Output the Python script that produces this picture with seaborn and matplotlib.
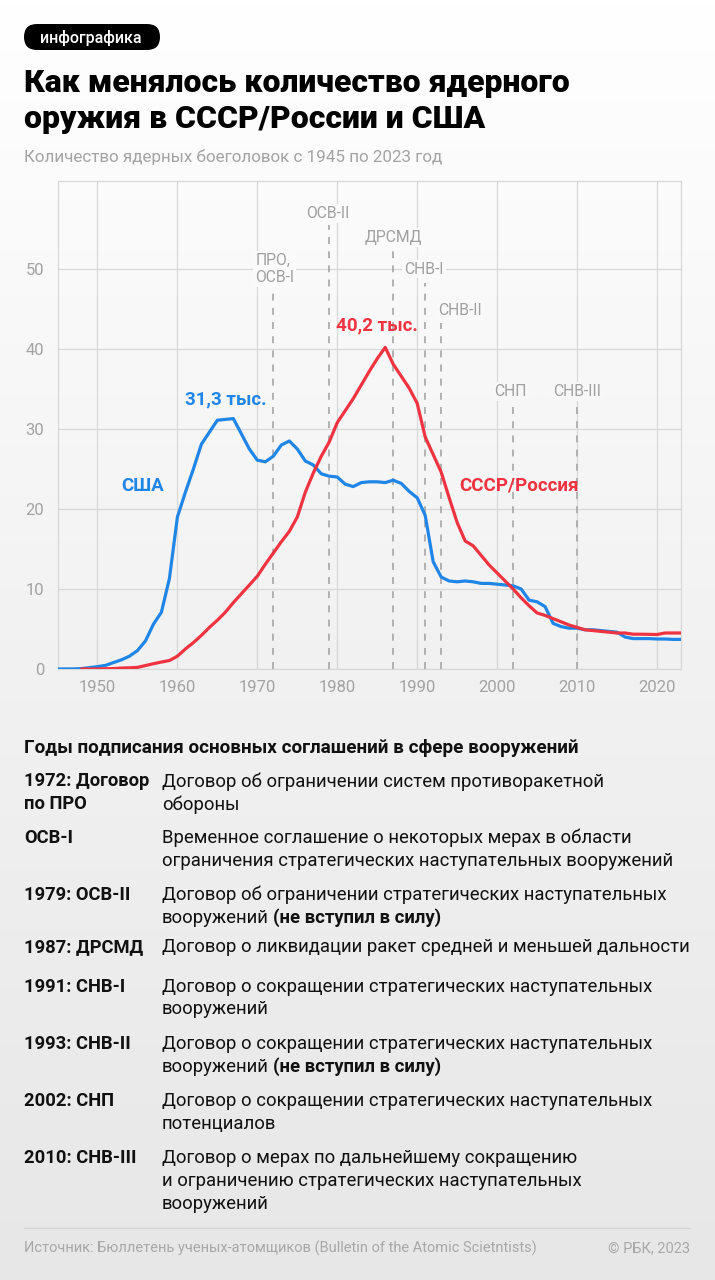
import numpy as np
import pandas as pd
import matplotlib
matplotlib.use("Agg")
import matplotlib.pyplot as plt
import seaborn as sns
from matplotlib import font_manager as fm
from matplotlib.patches import FancyBboxPatch
from matplotlib.colors import LinearSegmentedColormap

# ---------------- data ----------------
years = list(range(1945, 2024))
usa = [0.0, 0.01, 0.01, 0.05, 0.17, 0.3, 0.45, 0.8, 1.15, 1.6,
       2.3, 3.5, 5.6, 7.1, 11.3, 19.0, 22.1, 25.0, 28.1, 29.6,
       31.1, 31.2, 31.3, 29.4, 27.5, 26.1, 25.9, 26.6, 28.0, 28.5,
       27.5, 26.0, 25.5, 24.4, 24.1, 24.0, 23.1, 22.8, 23.3, 23.4,
       23.4, 23.3, 23.6, 23.2, 22.2, 21.4, 19.2, 13.4, 11.5, 11.0,
       10.9, 11.0, 10.9, 10.7, 10.7, 10.6, 10.5, 10.4, 10.0, 8.6,
       8.4, 7.8, 5.7, 5.3, 5.1, 5.1, 4.9, 4.9, 4.8, 4.7,
       4.6, 4.0, 3.8, 3.8, 3.8, 3.75, 3.75, 3.7, 3.7]
ussr = [np.nan, np.nan, np.nan, 0.0, 0.0, 0.01, 0.03, 0.05, 0.12, 0.15,
        0.2, 0.43, 0.66, 0.87, 1.06, 1.6, 2.5, 3.3, 4.2, 5.2,
        6.1, 7.1, 8.3, 9.4, 10.5, 11.6, 13.1, 14.5, 15.9, 17.2,
        19.0, 22.1, 24.5, 26.6, 28.4, 30.8, 32.3, 33.8, 35.5, 37.2,
        38.8, 40.2, 38.1, 36.6, 35.1, 33.2, 29.0, 26.8, 24.6, 21.4,
        18.3, 16.0, 15.4, 14.2, 13.0, 12.0, 11.0, 10.0, 8.9, 7.9,
        7.0, 6.7, 6.3, 5.9, 5.5, 5.2, 4.9, 4.8, 4.7, 4.6,
        4.5, 4.5, 4.35, 4.35, 4.33, 4.31, 4.5, 4.5, 4.5]
x_ticks = [1950, 1960, 1970, 1980, 1990, 2000, 2010, 2020]
y_ticks = [0, 10, 20, 30, 40, 50]

treaty_years = [1972, 1979, 1987, 1991, 1993, 2002, 2010]
treaty_labels = ["ПРО,\nОСВ-I", "ОСВ-II", "ДРСМД", "СНВ-I", "СНВ-II", "СНП", "СНВ-III"]

table_left = ["1972: Договор\nпо ПРО", "ОСВ-I", "1979: ОСВ-II", "1987: ДРСМД",
              "1991: СНВ-I", "1993: СНВ-II", "2002: СНП", "2010: СНВ-III"]
table_right = [
    ["Договор об ограничении систем противоракетной", "обороны"],
    ["Временное соглашение о некоторых мерах в области",
     "ограничения стратегических наступательных вооружений"],
    ["Договор об ограничении стратегических наступательных", "вооружений"],
    ["Договор о ликвидации ракет средней и меньшей дальности"],
    ["Договор о сокращении стратегических наступательных", "вооружений"],
    ["Договор о сокращении стратегических наступательных", "вооружений"],
    ["Договор о сокращении стратегических наступательных", "потенциалов"],
    ["Договор о мерах по дальнейшему сокращению",
     "и ограничению стратегических наступательных", "вооружений"],
]
table_bold_tail = [None, None, "(не вступил в силу)", None, None,
                   "(не вступил в силу)", None, None]

# ---------------- style ----------------
sns.set_theme(style="white")
avail = {f.name for f in fm.fontManager.ttflist}
def pick(*cands):
    for c in cands:
        if c in avail:
            return c
    return "DejaVu Sans"
MAIN = pick("Roboto", "Inter", "Lato", "DejaVu Sans")
FAM = [MAIN, "DejaVu Sans"]
plt.rcParams["font.family"] = FAM
plt.rcParams["lines.scale_dashes"] = False

BLUE = "#1f86e8"
RED = "#ef3340"
GRID = "#d8d8d8"
LABEL_GRAY = "#a0a0a0"

W, H = 715, 1280
fig = plt.figure(figsize=(W / 100, H / 100), dpi=100)
renderer = fig.canvas.get_renderer()

bg_cmap = LinearSegmentedColormap.from_list("bg", ["#ffffff", "#f2f2f2", "#e7e7e7"])
def bgcol(ypix):
    return bg_cmap(ypix / H)

# overlay in pixel coordinates
ov = fig.add_axes([0, 0, 1, 1], zorder=0)
ov.axis("off")
grad = np.linspace(0, 1, 256).reshape(-1, 1)
ov.imshow(grad, aspect="auto", cmap=bg_cmap, extent=[0, W, H, 0], zorder=0)
ov.set_xlim(0, W)
ov.set_ylim(H, 0)

def fit(t, target, base):
    """scale font size of text t so its width equals target pixels"""
    w = t.get_window_extent(renderer).width
    t.set_fontsize(base * target / w)
    return base * target / w

# tag
ov.add_patch(FancyBboxPatch((24, 24), 136, 26, boxstyle="round,pad=0,rounding_size=13",
                            fc="black", ec="none", zorder=2))
ov.text(91, 37.5, "инфографика", color="white", fontsize=11.5, ha="center", va="center",
        fontweight="medium", zorder=3)

# title
t1 = ov.text(24, 92.5, "Как менялось количество ядерного", fontsize=23, fontweight="black",
             va="baseline", ha="left", color="black", zorder=3)
tsize = fit(t1, 545, 23)
ov.text(24, 127.5, "оружия в СССР/России и США", fontsize=tsize, fontweight="black",
        va="baseline", ha="left", color="black", zorder=3)
st = ov.text(24, 157, "Количество ядерных боеголовок с 1945 по 2023 год", fontsize=12,
             color="#a3a3a3", va="center", ha="left", zorder=3)
fit(st, 419, 12)

# ---------------- chart ----------------
df = pd.DataFrame({"year": years, "США": usa, "СССР/Россия": ussr})
ax = fig.add_axes([57.5 / W, 1 - 669 / H, (681 - 57.5) / W, (669 - 181) / H], zorder=1)
ax.patch.set_alpha(0)
sns.lineplot(data=df, x="year", y="США", color=BLUE, lw=2.3, ax=ax, zorder=4)
sns.lineplot(data=df.dropna(), x="year", y="СССР/Россия", color=RED, lw=2.3, ax=ax, zorder=5)
ax.set_xlim(1945, 2023)
ax.set_ylim(0, 61)
ax.set_xticks(x_ticks)
ax.set_yticks(y_ticks)
ax.set_xlabel("")
ax.set_ylabel("")
ax.grid(True, color=GRID, lw=0.9, zorder=0)
for s in ax.spines.values():
    s.set_visible(True)
    s.set_color(GRID)
    s.set_linewidth(0.9)
ax.tick_params(axis="both", length=0, labelcolor="#a3a3a3", labelsize=12)
ax.tick_params(axis="y", pad=9.5)
ax.tick_params(axis="x", pad=8)

line_tops = [47.2, 55.5, 52.5, 48.3, 43.2, 32.9, 32.9]
label_pos = [(1972.2, 50.0), (1978.85, 56.9), (1987.0, 53.95), (1990.85, 50.0),
             (1995.35, 44.8), (2001.7, 34.7), (2010.0, 34.7)]
for yr, lab, top, (lx, ly) in zip(treaty_years, treaty_labels, line_tops, label_pos):
    ax.vlines(yr, 0, top, colors="#a6a6a6", lw=1.2, linestyles=(0, (5, 5.2)), zorder=3)
    ypix = 669 - ly * 8.0
    ax.text(lx, ly, lab, ha="center", va="center", fontsize=11.3, color=LABEL_GRAY,
            linespacing=1.2, multialignment="left", zorder=6,
            bbox=dict(boxstyle="square,pad=0.12", fc=bgcol(ypix), ec="none"))

ann = dict(fontsize=13.5, fontweight="bold", ha="center", va="center", zorder=6)
ax.text(1966, 33.7, "31,3 тыс.", color=BLUE, **ann)
ax.text(1955.7, 22.9, "США", color=BLUE, **ann)
ax.text(1984.9, 42.9, "40,2 тыс.", color=RED, **ann)
ax.text(2002.7, 22.9, "СССР/Россия", color=RED, **ann)

# ---------------- table ----------------
hd = ov.text(24, 748, "Годы подписания основных соглашений в сфере вооружений",
             fontsize=13, fontweight="bold", va="center", zorder=3, color="#111111")
fit(hd, 557, 13)
probe = ov.text(162, -100, "Договор о ликвидации ракет средней и меньшей дальности", fontsize=13)
body = fit(probe, 527, 13)
probe.remove()
probe = ov.text(24, -100, "1972: Договор", fontsize=13, fontweight="bold")
lbl = fit(probe, 125, 13)
probe.remove()

row_y = [781.5, 838, 895, 947.5, 986.5, 1044, 1101, 1158]
LS = 22.8
for ly, left, rights, tail in zip(row_y, table_left, table_right, table_bold_tail):
    for i, ltxt in enumerate(left.split("\n")):
        ov.text(24, ly + i * LS, ltxt, fontsize=lbl, fontweight="bold",
                va="center", zorder=3, color="#111111")
    last = None
    for i, rtxt in enumerate(rights):
        last = ov.text(162, ly + i * LS, rtxt, fontsize=body,
                       va="center", zorder=3, color="#111111")
    if tail:
        bb = last.get_window_extent(renderer)
        x_end = ov.transData.inverted().transform((bb.x1, bb.y0))[0]
        ov.text(x_end + 4, ly + (len(rights) - 1) * LS, tail, fontsize=body, fontweight="bold",
                va="center", zorder=3, color="#111111")

ov.plot([24, 690], [1227.5, 1227.5], color="#d4d4d4", lw=0.9, zorder=3)
ft = ov.text(24, 1248, "Источник: Бюллетень ученых-атомщиков (Bulletin of the Atomic Scietntists)",
             fontsize=11, color="#a8a8a8", va="center", zorder=3)
fsz = fit(ft, 513, 11)
ov.text(690, 1248, "© РБК, 2023", fontsize=fsz, color="#a8a8a8",
        va="center", ha="right", zorder=3)

fig.savefig("out.png", dpi=100)
